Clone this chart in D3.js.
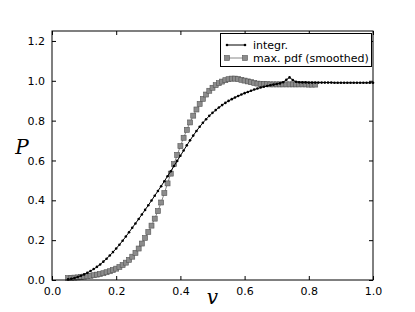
<!DOCTYPE html>
<html><head><meta charset="utf-8">
<script src="https://cdn.jsdelivr.net/npm/d3@7"></script>
<style>html,body{margin:0;padding:0;background:#fff;}svg{display:block;}</style>
</head><body>
<script>
// data
const integrV = d3.range(5, 101).map(i => i / 100);
const integrP = [0.003,0.006,0.010,0.015,0.021,0.028,0.036,0.045,0.055,0.066,
  0.078,0.092,0.107,0.123,0.140,0.158,0.177,0.197,0.218,0.240,
  0.262,0.284,0.306,0.329,0.352,0.375,0.399,0.423,0.447,0.471,
  0.496,0.521,0.546,0.572,0.598,0.624,0.650,0.676,0.701,0.725,
  0.748,0.769,0.789,0.807,0.824,0.839,0.853,0.866,0.878,0.889,
  0.899,0.908,0.916,0.924,0.931,0.938,0.944,0.950,0.956,0.961,
  0.966,0.970,0.974,0.978,0.981,0.984,0.987,0.993,1.005,1.017,
  1.004,0.995,0.993,0.992,0.992,0.991,0.991,0.991,0.991,0.991,
  0.991,0.991,0.991,0.990,0.990,0.990,0.990,0.990,0.990,0.990,
  0.990,0.990,0.990,0.990,0.990,0.990];
const pdfV = d3.range(5, 83).map(i => i / 100);
const pdfP = [0.010,0.011,0.012,0.013,0.015,0.017,0.019,0.021,0.024,0.027,
  0.030,0.034,0.039,0.044,0.050,0.057,0.065,0.075,0.087,0.101,
  0.117,0.136,0.158,0.183,0.211,0.241,0.273,0.308,0.346,0.389,
  0.436,0.485,0.534,0.582,0.628,0.672,0.714,0.754,0.791,0.825,
  0.856,0.884,0.909,0.931,0.950,0.965,0.978,0.988,0.996,1.003,
  1.008,1.011,1.011,1.009,1.005,1.001,0.997,0.993,0.989,0.986,
  0.984,0.983,0.983,0.982,0.982,0.982,0.982,0.982,0.982,0.982,
  0.982,0.982,0.982,0.982,0.982,0.981,0.981,0.981];
const xTicks = [0, 0.2, 0.4, 0.6, 0.8, 1.0];
const yTicks = [0, 0.2, 0.4, 0.6, 0.8, 1.0, 1.2];
const seriesNames = ["integr.", "max. pdf (smoothed)"];

const W = 415, H = 312;
const L = 52, R = 373, T = 31, B = 280;
const svg = d3.select("body").append("svg").attr("width", W).attr("height", H);
const x = d3.scaleLinear().domain([0, 1]).range([L, R]);
const y = d3.scaleLinear().domain([0, 1.25]).range([B, T]);
const font = "'DejaVu Sans', sans-serif";

// axes
const ax = (g, axis) => g.call(axis).call(s => s.select(".domain").remove())
  .call(s => s.selectAll("text").attr("font-family", font).attr("font-size", 11).attr("fill", "#000"))
  .call(s => s.selectAll("line").attr("stroke", "#000"));
svg.append("g").attr("transform", `translate(0,${B})`)
  .call(g => ax(g, d3.axisBottom(x).tickValues(xTicks).tickFormat(d3.format(".1f")).tickSizeInner(-4).tickPadding(7)));
svg.append("g").attr("transform", `translate(0,${T})`)
  .call(g => ax(g, d3.axisTop(x).tickValues(xTicks).tickFormat("").tickSizeInner(-4)));
svg.append("g").attr("transform", `translate(${L},0)`)
  .call(g => ax(g, d3.axisLeft(y).tickValues(yTicks).tickFormat(d3.format(".1f")).tickSizeInner(-4).tickPadding(7)));
svg.append("g").attr("transform", `translate(${R},0)`)
  .call(g => ax(g, d3.axisRight(y).tickValues(yTicks).tickFormat("").tickSizeInner(-4)));

const plot = svg.append("g");

// pdf series (gray squares)
const pdfData = pdfV.map((v, i) => [v, pdfP[i]]);
plot.append("path").datum(pdfData)
  .attr("d", d3.line().x(d => x(d[0])).y(d => y(d[1])))
  .attr("fill", "none").attr("stroke", "#888").attr("stroke-width", 1);
plot.selectAll("rect.sq").data(pdfData).join("rect").attr("class", "sq")
  .attr("x", d => x(d[0]) - 2.5).attr("y", d => y(d[1]) - 2.5)
  .attr("width", 5).attr("height", 5)
  .attr("fill", "#8c8c8c").attr("stroke", "#555").attr("stroke-width", 0.6);

// integr series (black line with dots)
const intData = integrV.map((v, i) => [v, integrP[i]]);
plot.append("path").datum(intData)
  .attr("d", d3.line().x(d => x(d[0])).y(d => y(d[1])))
  .attr("fill", "none").attr("stroke", "#000").attr("stroke-width", 1);
plot.selectAll("circle.dt").data(intData).join("circle").attr("class", "dt")
  .attr("cx", d => x(d[0])).attr("cy", d => y(d[1])).attr("r", 1.3).attr("fill", "#000");

// frame
svg.append("rect").attr("x", L).attr("y", T).attr("width", R - L).attr("height", B - T)
  .attr("fill", "none").attr("stroke", "#000").attr("stroke-width", 1);

// axis labels
svg.append("text").attr("x", x(0.5)).attr("y", 304).attr("text-anchor", "middle")
  .attr("font-family", "'DejaVu Serif', serif").attr("font-style", "italic").attr("font-size", 20).text("v");
svg.append("text").attr("x", 22).attr("y", 154).attr("text-anchor", "middle")
  .attr("font-family", "'DejaVu Serif', serif").attr("font-style", "italic").attr("font-size", 20).text("P");

// legend
const lg = svg.append("g");
lg.append("rect").attr("x", 220.5).attr("y", 33.5).attr("width", 151).attr("height", 33)
  .attr("fill", "#fff").attr("stroke", "#000").attr("stroke-width", 1);
const ly = [45, 58];
lg.append("line").attr("x1", 227).attr("x2", 245).attr("y1", ly[0]).attr("y2", ly[0]).attr("stroke", "#000");
[227, 245].forEach(cx => lg.append("circle").attr("cx", cx).attr("cy", ly[0]).attr("r", 1.3).attr("fill", "#000"));
lg.append("line").attr("x1", 227).attr("x2", 245).attr("y1", ly[1]).attr("y2", ly[1]).attr("stroke", "#888");
[227, 245].forEach(cx => lg.append("rect").attr("x", cx - 2.5).attr("y", ly[1] - 2.5).attr("width", 5).attr("height", 5)
  .attr("fill", "#8c8c8c").attr("stroke", "#555").attr("stroke-width", 0.6));
seriesNames.forEach((n, i) => lg.append("text").attr("x", 253).attr("y", ly[i] + 4)
  .attr("font-family", font).attr("font-size", 11).text(n));
</script>
</body></html>
